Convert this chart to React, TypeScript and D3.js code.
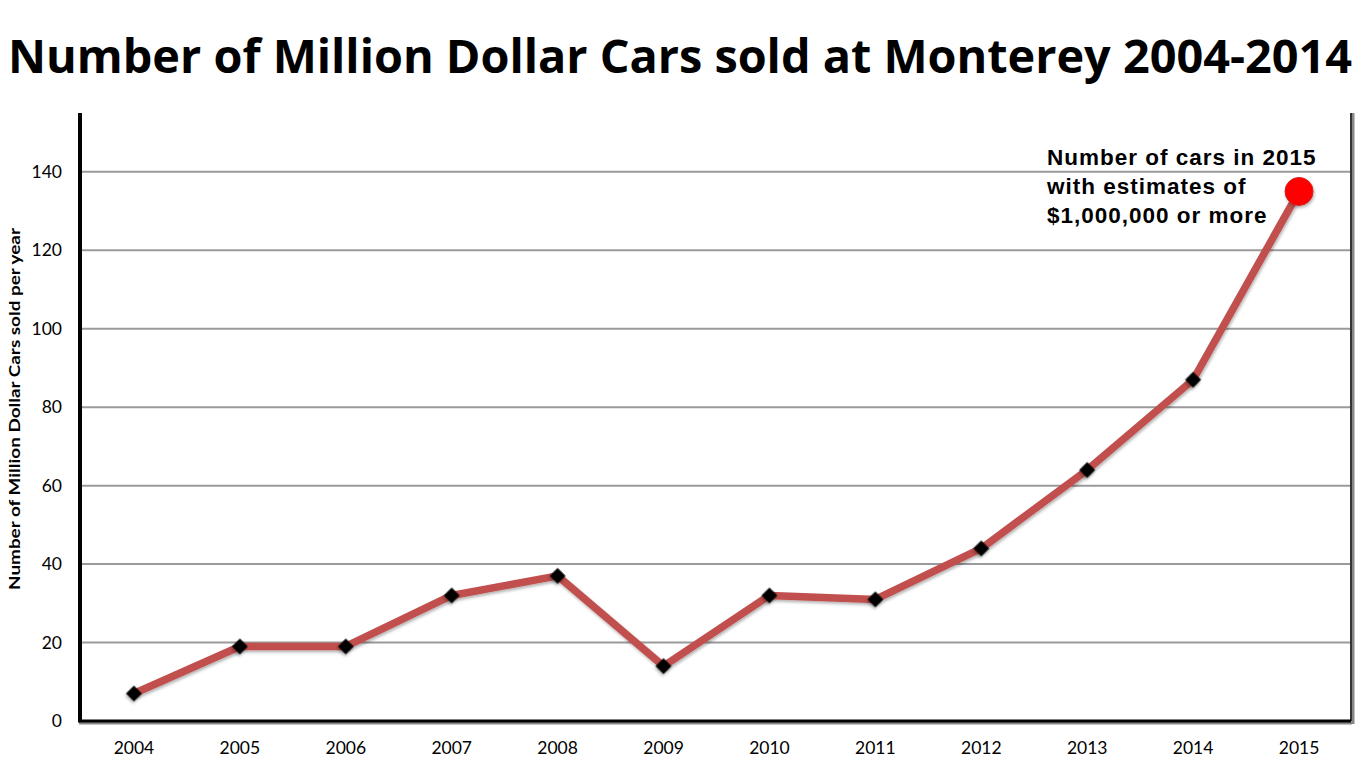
import * as d3 from "d3";

const years = ["2004", "2005", "2006", "2007", "2008", "2009", "2010", "2011", "2012", "2013", "2014", "2015"];
const carsSold = [7, 19, 19, 32, 37, 14, 32, 31, 44, 64, 87, 135];
const yTicks = [0, 20, 40, 60, 80, 100, 120, 140];
const noteLines = ["Number of cars in 2015", "with estimates of", "$1,000,000 or more"];

const W = 1363;
const H = 767;
const plot = { left: 81, right: 1352, top: 113, bottom: 721 };

export default function App() {
  const x = d3.scaleBand<string>().domain(years).range([plot.left, plot.right]);
  const y = d3.scaleLinear().domain([0, 155]).range([plot.bottom, plot.top]);
  const cx = (yr: string) => (x(yr) ?? 0) + x.bandwidth() / 2;

  const points = years.map((yr, i) => ({ yr, v: carsSold[i] }));
  const line = d3
    .line<{ yr: string; v: number }>()
    .x((d) => cx(d.yr))
    .y((d) => y(d.v));

  const diamond = d3.symbol().type(d3.symbolSquare).size(125)();
  const last = points[points.length - 1];

  return (
    <svg
      width={W}
      height={H}
      style={{ position: "absolute", left: 0, top: 0, background: "#fff" }}
    >
      <defs>
        <filter id="shadow" x="-50%" y="-50%" width="200%" height="200%">
          <feDropShadow dx="1" dy="2" stdDeviation="1.5" floodColor="#000" floodOpacity="0.3" />
        </filter>
      </defs>

      <text
        x={8}
        y={73}
        fontFamily="Open Sans, sans-serif"
        fontWeight="bold"
        fontSize={47}
        textLength={1344}
        lengthAdjust="spacingAndGlyphs"
        fill="#000"
      >
        Number of Million Dollar Cars sold at Monterey 2004-2014
      </text>

      {/* gridlines */}
      {yTicks.slice(1).map((t) => (
        <line
          key={t}
          x1={plot.left}
          x2={plot.right}
          y1={y(t)}
          y2={y(t)}
          stroke="#9a9a9a"
          strokeWidth={2}
        />
      ))}

      {/* frame: right edge with shadow, bottom and left axes */}
      <line x1={plot.right + 1} x2={plot.right + 1} y1={plot.top} y2={plot.bottom + 3} stroke="#888" strokeWidth={3} />
      <line x1={plot.right - 1} x2={plot.right - 1} y1={plot.top} y2={plot.bottom} stroke="#333" strokeWidth={2} />
      <line x1={plot.left - 2} x2={plot.right} y1={plot.bottom + 2} y2={plot.bottom + 2} stroke="#888" strokeWidth={3} />
      <line x1={plot.left - 3} x2={plot.right - 1} y1={plot.bottom} y2={plot.bottom} stroke="#000" strokeWidth={3} />
      <line x1={plot.left - 1} x2={plot.left - 1} y1={plot.top} y2={plot.bottom + 1} stroke="#000" strokeWidth={4} />

      {/* y tick labels */}
      {yTicks.map((t) => (
        <text
          key={t}
          x={62}
          y={y(t) + 6}
          textAnchor="end"
          fontFamily="Lato, sans-serif"
          fontSize={17.5}
          fill="#000"
        >
          {t}
        </text>
      ))}

      {/* x tick labels */}
      {years.map((yr) => (
        <text
          key={yr}
          x={cx(yr)}
          y={754}
          textAnchor="middle"
          fontFamily="Lato, sans-serif"
          fontSize={17.5}
          fill="#000"
        >
          {yr}
        </text>
      ))}

      <text
        transform={`translate(20, 409) rotate(-90)`}
        textAnchor="middle"
        fontFamily="Lato, sans-serif"
        fontWeight="bold"
        fontSize={15}
        textLength={362}
        lengthAdjust="spacingAndGlyphs"
        fill="#000"
      >
        Number of Million Dollar Cars sold per year
      </text>

      <path
        d={line(points) ?? ""}
        fill="none"
        stroke="#c0504d"
        strokeWidth={7.5}
        strokeLinejoin="round"
        filter="url(#shadow)"
      />

      {points.slice(0, -1).map((p) => (
        <path
          key={p.yr}
          d={diamond ?? ""}
          transform={`translate(${cx(p.yr)}, ${y(p.v)}) rotate(45)`}
          fill="#000"
          filter="url(#shadow)"
        />
      ))}

      <circle
        cx={cx(last.yr)}
        cy={y(last.v)}
        r={14}
        fill="#ff0000"
        stroke="#d42020"
        strokeWidth={1}
        filter="url(#shadow)"
      />

      {noteLines.map((s, i) => (
        <text
          key={s}
          x={1047}
          y={165 + i * 29}
          fontFamily="Liberation Sans, Arial, sans-serif"
          fontWeight="bold"
          fontSize={22.5}
          letterSpacing={1}
          fill="#000"
        >
          {s}
        </text>
      ))}
    </svg>
  );
}
